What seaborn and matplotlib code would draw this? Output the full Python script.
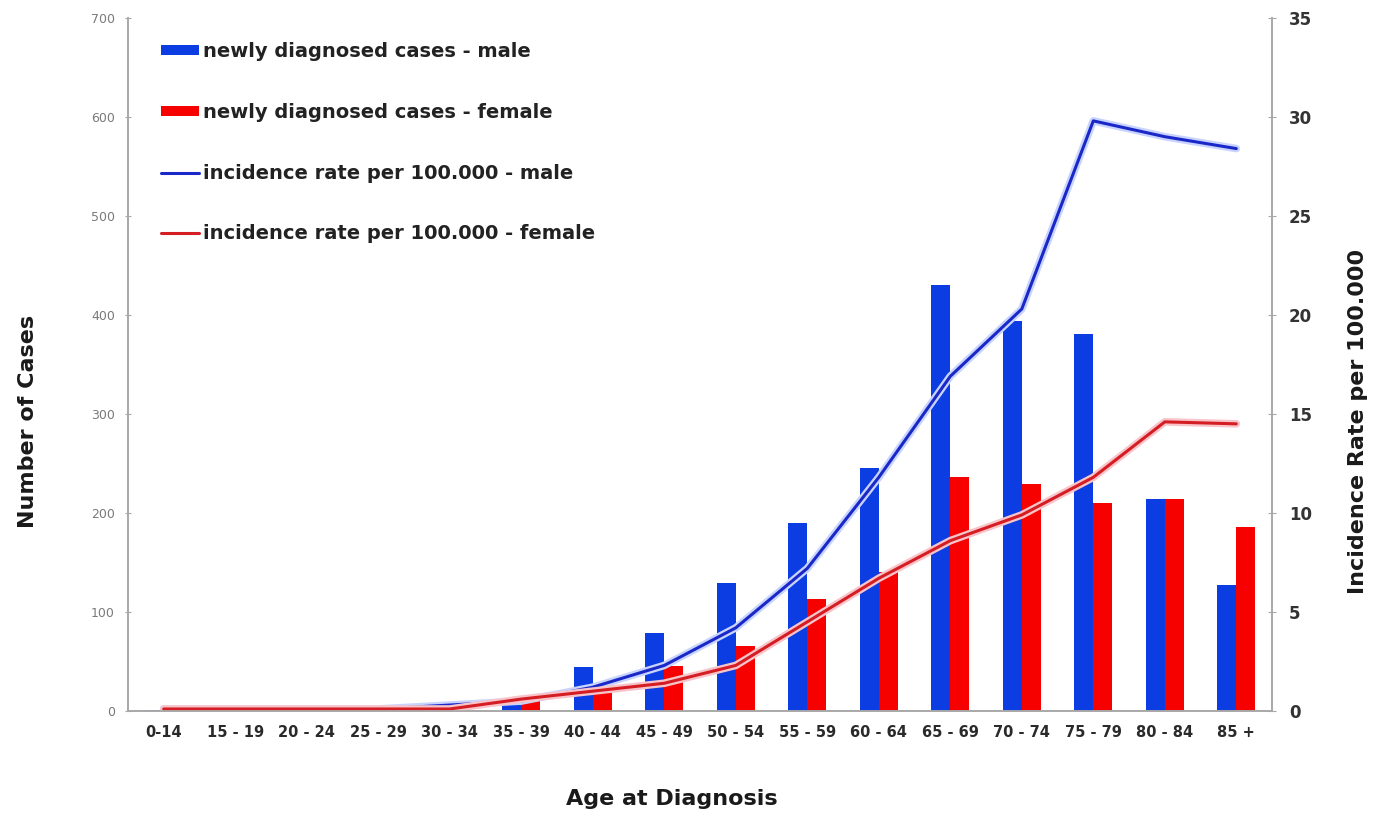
import matplotlib
matplotlib.use('Agg')
import matplotlib.pyplot as plt
import matplotlib.patheffects as pe
from matplotlib.patches import Patch
from matplotlib.lines import Line2D
import seaborn as sns
import numpy as np
import pandas as pd

# ── Data ────────────────────────────────────────────────────────────────────
AGE_GROUPS = ['0-14', '15 - 19', '20 - 24', '25 - 29', '30 - 34', '35 - 39',
              '40 - 44', '45 - 49', '50 - 54', '55 - 59', '60 - 64', '65 - 69',
              '70 - 74', '75 - 79', '80 - 84', '85 +']
CASES_MALE = [1, 0, 0, 1, 2, 6, 44, 79, 129, 190, 245, 430, 394, 381, 214, 127]
CASES_FEMALE = [0, 0, 0, 1, 3, 11, 23, 45, 66, 113, 140, 236, 229, 210, 214, 186]
RATE_MALE = [0.1, 0.1, 0.1, 0.1, 0.3, 0.5, 1.2, 2.3, 4.2, 7.2, 11.8, 16.9,
             20.3, 29.8, 29.0, 28.4]
RATE_FEMALE = [0.1, 0.1, 0.1, 0.1, 0.1, 0.6, 1.0, 1.4, 2.3, 4.5, 6.7, 8.6,
               9.9, 11.8, 14.6, 14.5]

SERIES_LABELS = ['newly diagnosed cases - male', 'newly diagnosed cases - female',
                 'incidence rate per 100.000 - male', 'incidence rate per 100.000 - female']

# ── Style ───────────────────────────────────────────────────────────────────
BLUE_BAR = '#0b3de2'
RED_BAR = '#f70000'
BLUE_LINE = '#1a28c8'
RED_LINE = '#d41e24'
AXIS_GREY = '#a8a8a8'

sns.set_style('white')
plt.rcParams['font.family'] = ['DejaVu Sans']

cases = pd.DataFrame({
    'age': AGE_GROUPS * 2,
    'cases': CASES_MALE + CASES_FEMALE,
    'sex': ['male'] * len(AGE_GROUPS) + ['female'] * len(AGE_GROUPS),
})

fig = plt.figure(figsize=(13.73, 8.13), dpi=100)
ax = fig.add_axes([0.0932, 0.1255, 0.8333, 0.8525])

sns.barplot(data=cases, x='age', y='cases', hue='sex', order=AGE_GROUPS,
            hue_order=['male', 'female'], palette=[BLUE_BAR, RED_BAR],
            width=0.53, saturation=1, linewidth=0, ax=ax, legend=False)

ax.set_ylim(0, 700)
ax.set_xlim(-0.5, len(AGE_GROUPS) - 0.5)
ax.set_yticks(range(0, 701, 100))
ax.tick_params(axis='y', labelsize=9, labelcolor='#7a7a7a', color=AXIS_GREY,
               direction='inout', length=5, width=0.8, pad=7)
ax.tick_params(axis='x', which='major', length=0, labelsize=10.5, pad=10)
for lbl in ax.get_xticklabels():
    lbl.set_fontweight('bold')
    lbl.set_color('#2a2a2a')
ax.set_xticks(np.arange(len(AGE_GROUPS) + 1) - 0.5, minor=True)
ax.tick_params(axis='x', which='minor', direction='inout', length=5,
               color=AXIS_GREY, width=0.8)
ax.set_xlabel('Age at Diagnosis', fontsize=16, fontweight='bold', color='#1a1a1a')
ax.set_ylabel('Number of Cases', fontsize=16, fontweight='bold', color='#1a1a1a')
ax.xaxis.set_label_coords(0.4755, -0.113)
ax.yaxis.set_label_coords(-0.079, 0.418)

# rate lines on the secondary axis
ax2 = ax.twinx()
pos = np.arange(len(AGE_GROUPS))
sns.lineplot(x=pos, y=RATE_MALE, color=BLUE_LINE, linewidth=2.2, ax=ax2,
             path_effects=[pe.Stroke(linewidth=5.5, foreground='#c8d4ff'), pe.Normal()])
sns.lineplot(x=pos, y=RATE_FEMALE, color=RED_LINE, linewidth=2.2, ax=ax2,
             path_effects=[pe.Stroke(linewidth=5.5, foreground='#f8c4ca'), pe.Normal()])
ax2.set_ylim(0, 35)
ax2.set_yticks(range(0, 36, 5))
ax2.tick_params(axis='y', labelsize=12, labelcolor='#333333', color=AXIS_GREY,
                direction='inout', length=6, width=0.8, pad=9)
for lbl in ax2.get_yticklabels():
    lbl.set_fontweight('bold')
ax2.set_ylabel('Incidence Rate per 100.000', fontsize=16, fontweight='bold',
               color='#1a1a1a')
ax2.yaxis.set_label_coords(1.066, 0.418)

for a in (ax, ax2):
    a.spines['top'].set_visible(False)
    for s in ('left', 'bottom', 'right'):
        a.spines[s].set_color(AXIS_GREY)
        a.spines[s].set_linewidth(1.2)

handles = [
    Patch(facecolor=BLUE_BAR, edgecolor='none'),
    Patch(facecolor=RED_BAR, edgecolor='none'),
    Line2D([], [], color=BLUE_LINE, linewidth=2.2),
    Line2D([], [], color=RED_LINE, linewidth=2.2),
]
leg = ax2.legend(handles, SERIES_LABELS, loc='upper left',
                 bbox_to_anchor=(0.014, 0.99), frameon=False,
                 handlelength=1.95, handleheight=0.4, handletextpad=0.2,
                 labelspacing=2.14, prop={'size': 14, 'weight': 'bold'})
for t in leg.get_texts():
    t.set_color('#222222')

fig.savefig('out.png', dpi=100, facecolor='white')
